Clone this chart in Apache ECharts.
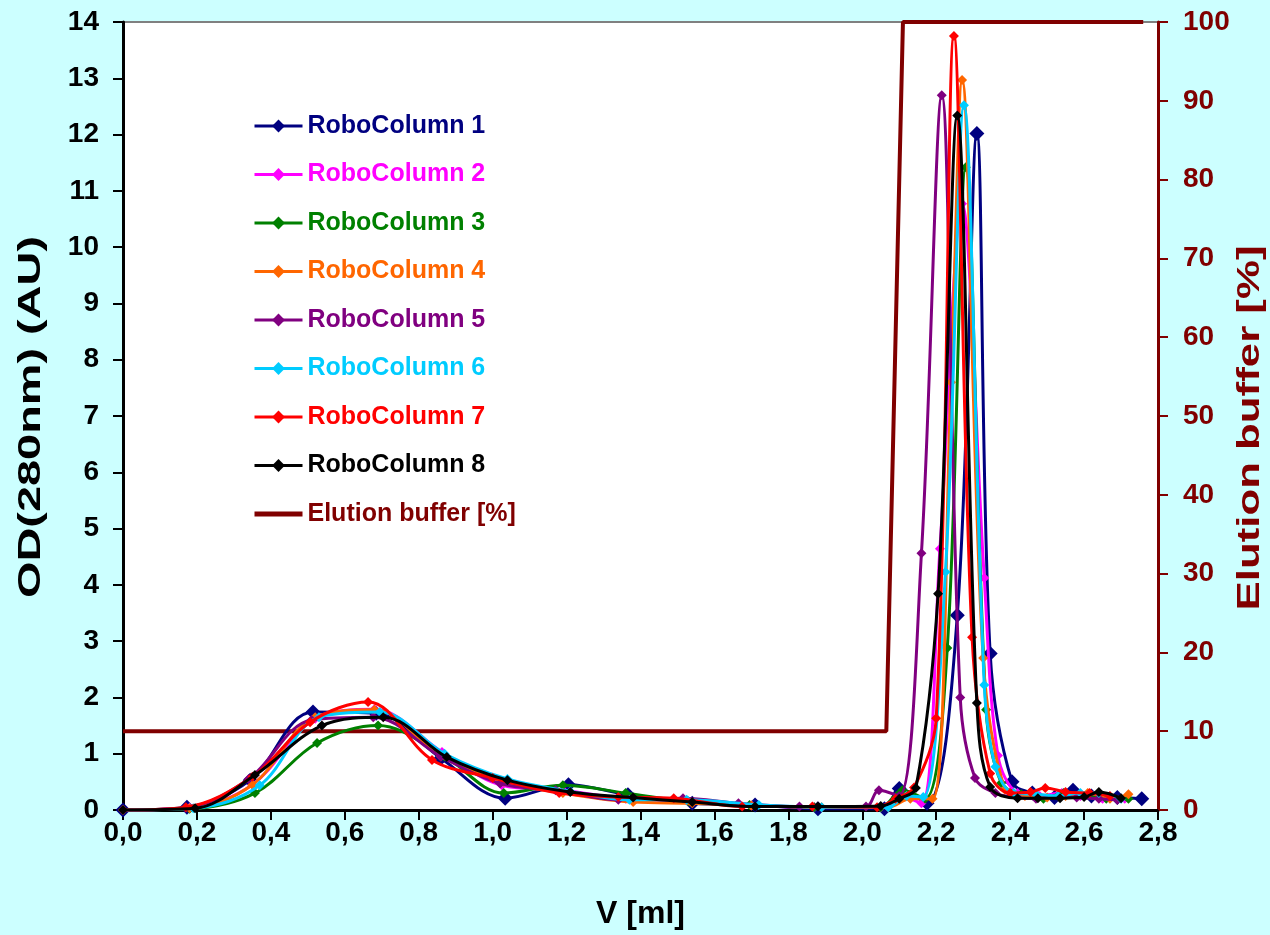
<!DOCTYPE html>
<html>
<head>
<meta charset="utf-8">
<script src="https://cdn.jsdelivr.net/npm/echarts@6/dist/echarts.min.js"></script>
<style>
  html, body { margin: 0; padding: 0; background: #ccffff; }
  #main { width: 1270px; height: 935px; }
</style>
</head>
<body>
<div id="main"></div>
<script>
// V [ml] and OD(280nm) for each RoboColumn
var v1 = [0, 0.173, 0.344, 0.514, 0.685, 0.86, 1.034, 1.205, 1.366, 1.54, 1.71, 1.88, 2.06, 2.10, 2.175, 2.257, 2.31, 2.346, 2.405, 2.46, 2.52, 2.57, 2.62, 2.69, 2.756]
var od1 = [0, 0.05, 0.53, 1.74, 1.72, 0.92, 0.21, 0.45, 0.27, 0.12, 0.09, 0.02, 0.02, 0.38, 0.12, 3.46, 12.02, 2.78, 0.5, 0.3, 0.22, 0.35, 0.25, 0.22, 0.2]

var v2 = [0, 0.18, 0.35, 0.52, 0.68, 0.863, 1.025, 1.19, 1.36, 1.53, 1.70, 1.87, 2.05, 2.10, 2.16, 2.21, 2.27, 2.33, 2.367, 2.42, 2.48, 2.54, 2.59, 2.65, 2.71]
var od2 = [0, 0.04, 0.45, 1.62, 1.79, 1.03, 0.44, 0.35, 0.2, 0.15, 0.08, 0.05, 0.05, 0.25, 0.12, 4.64, 10.77, 4.12, 0.97, 0.3, 0.25, 0.3, 0.25, 0.2, 0.2]

var v3 = [0, 0.18, 0.357, 0.525, 0.69, 0.87, 1.03, 1.19, 1.36, 1.53, 1.695, 1.87, 2.05, 2.108, 2.17, 2.23, 2.28, 2.335, 2.376, 2.43, 2.49, 2.545, 2.6, 2.66, 2.72]
var od3 = [0, 0.02, 0.3, 1.19, 1.5, 0.95, 0.3, 0.44, 0.3, 0.15, 0.09, 0.05, 0.05, 0.35, 0.2, 2.88, 11.42, 1.78, 0.48, 0.28, 0.2, 0.3, 0.25, 0.2, 0.2]

var v4 = [0, 0.18, 0.35, 0.52, 0.68, 0.86, 1.03, 1.19, 1.38, 1.54, 1.70, 1.89, 2.07, 2.13, 2.19, 2.24, 2.27, 2.327, 2.386, 2.44, 2.5, 2.55, 2.61, 2.67, 2.72]
var od4 = [0, 0.03, 0.45, 1.65, 1.78, 0.95, 0.5, 0.3, 0.14, 0.12, 0.08, 0.05, 0.05, 0.2, 0.2, 7.6, 12.97, 2.7, 0.36, 0.25, 0.22, 0.25, 0.3, 0.2, 0.28]

var v5 = [0, 0.17, 0.34, 0.51, 0.677, 0.86, 1.02, 1.17, 1.34, 1.515, 1.665, 1.83, 2.01, 2.045, 2.10, 2.16, 2.215, 2.265, 2.305, 2.36, 2.42, 2.47, 2.53, 2.58, 2.64, 2.69]
var od5 = [0, 0.04, 0.55, 1.6, 1.65, 0.95, 0.47, 0.35, 0.18, 0.21, 0.12, 0.06, 0.06, 0.35, 0.25, 4.56, 12.7, 2.0, 0.57, 0.3, 0.22, 0.2, 0.25, 0.22, 0.2, 0.18]

var v6 = [0, 0.19, 0.37, 0.53, 0.695, 0.87, 1.04, 1.21, 1.37, 1.525, 1.72, 1.89, 2.07, 2.12, 2.165, 2.225, 2.275, 2.33, 2.36, 2.41, 2.47, 2.53, 2.59, 2.64, 2.7]
var od6 = [0, 0.03, 0.44, 1.65, 1.74, 1.0, 0.55, 0.33, 0.18, 0.18, 0.09, 0.05, 0.05, 0.25, 0.23, 4.23, 12.52, 2.22, 0.77, 0.3, 0.28, 0.25, 0.3, 0.3, 0.2]

var v7 = [0, 0.17, 0.35, 0.506, 0.663, 0.836, 1.0, 1.18, 1.34, 1.49, 1.675, 1.865, 2.04, 2.09, 2.14, 2.2, 2.248, 2.297, 2.346, 2.40, 2.455, 2.495, 2.55, 2.615, 2.67]
var od7 = [0, 0.05, 0.59, 1.56, 1.92, 0.89, 0.57, 0.3, 0.23, 0.21, 0.06, 0.06, 0.05, 0.2, 0.4, 1.63, 13.75, 3.07, 0.65, 0.3, 0.32, 0.39, 0.32, 0.3, 0.25]

var v8 = [0, 0.195, 0.357, 0.538, 0.704, 0.876, 1.04, 1.21, 1.38, 1.54, 1.71, 1.88, 2.05, 2.10, 2.145, 2.205, 2.257, 2.31, 2.346, 2.42, 2.475, 2.535, 2.6, 2.64, 2.7]
var od8 = [0, 0.03, 0.62, 1.5, 1.65, 0.94, 0.53, 0.32, 0.22, 0.14, 0.06, 0.06, 0.07, 0.2, 0.39, 3.84, 12.34, 1.9, 0.41, 0.21, 0.21, 0.21, 0.23, 0.32, 0.21]

// elution buffer step [%]
var vBuffer = [0, 2.065, 2.11, 2.76]
var buffer = [10, 10, 100, 100]

var names = ['RoboColumn 1', 'RoboColumn 2', 'RoboColumn 3', 'RoboColumn 4',
  'RoboColumn 5', 'RoboColumn 6', 'RoboColumn 7', 'RoboColumn 8']
var colors = ['#000080', '#ff00ff', '#008000', '#ff6600', '#800080', '#00ccff', '#ff0000', '#000000']
var vs = [v1, v2, v3, v4, v5, v6, v7, v8]
var ods = [od1, od2, od3, od4, od5, od6, od7, od8]

var FONT = 'Liberation Sans'
var brown = '#800000'

function pairs(xs, ys) {
  return xs.map(function (x, i) { return [x, ys[i]] })
}

// the axis titles in the picture are stretched along the text
var ctx = document.createElement('canvas').getContext('2d')
ctx.font = 'bold 32px "' + FONT + '"'
function stretch(txt, len) {
  return len / ctx.measureText(txt).width
}

var series = names.map(function (n, k) {
  return {
    name: n,
    type: 'line',
    data: pairs(vs[k], ods[k]),
    smooth: 0.35,
    symbol: 'diamond',
    symbolSize: k === 0 ? 15 : 10,
    lineStyle: { color: colors[k], width: 3 },
    itemStyle: { color: colors[k] },
    z: 3 + k
  }
})

series.unshift({
  name: 'Elution buffer [%]',
  type: 'line',
  yAxisIndex: 1,
  data: pairs(vBuffer, buffer),
  symbol: 'none',
  lineStyle: { color: brown, width: 4 },
  itemStyle: { color: brown },
  z: 2
})

var legendData = names.map(function (n, k) {
  return { name: n, textStyle: { color: colors[k] } }
})
legendData.push({
  name: 'Elution buffer [%]',
  textStyle: { color: brown },
  itemStyle: { color: 'rgba(0,0,0,0)', borderWidth: 0 },
  lineStyle: { width: 5 }
})

var leftTitle = 'OD(280nm) (AU)'
var rightTitle = 'Elution buffer [%]'

var myChart = echarts.init(document.getElementById('main'))
myChart.setOption({
  backgroundColor: '#ccffff',
  animation: false,
  textStyle: { fontFamily: FONT },
  grid: {
    left: 123, right: 112, top: 22, bottom: 125,
    outerBoundsMode: 'none',
    show: true,
    backgroundColor: '#ffffff',
    borderColor: '#808080',
    borderWidth: 2
  },
  legend: {
    orient: 'vertical',
    left: 252,
    top: 111,
    padding: 0,
    itemWidth: 48,
    itemHeight: 16,
    itemGap: 18.5,
    data: legendData,
    lineStyle: { width: 3 },
    textStyle: { fontFamily: FONT, fontWeight: 'bold', fontSize: 25, lineHeight: 30 }
  },
  graphic: [
    {
      type: 'text',
      x: 31, y: 417,
      rotation: Math.PI / 2,
      scaleX: stretch(leftTitle, 362),
      style: {
        text: leftTitle, fill: '#000',
        font: 'bold 32px "' + FONT + '"',
        align: 'center', verticalAlign: 'middle'
      }
    },
    {
      type: 'text',
      x: 1250, y: 428,
      rotation: Math.PI / 2,
      scaleX: stretch(rightTitle, 365),
      style: {
        text: rightTitle, fill: brown,
        font: 'bold 32px "' + FONT + '"',
        align: 'center', verticalAlign: 'middle'
      }
    }
  ],
  xAxis: {
    type: 'value',
    min: 0,
    max: 2.8,
    interval: 0.2,
    name: 'V [ml]',
    nameLocation: 'middle',
    nameGap: 88,
    nameTextStyle: { color: '#000', fontWeight: 'bold', fontSize: 32, fontFamily: FONT },
    splitLine: { show: false },
    axisLine: { onZero: false, lineStyle: { color: '#000', width: 3 } },
    axisTick: { inside: false, length: 10, lineStyle: { color: '#000', width: 2 } },
    axisLabel: {
      color: '#000', fontWeight: 'bold', fontSize: 28, margin: 9, fontFamily: FONT,
      formatter: function (v) { return v.toFixed(1).replace('.', ',') }
    }
  },
  yAxis: [
    {
      type: 'value',
      min: 0,
      max: 14,
      interval: 1,
      splitLine: { show: false },
      axisLine: { show: true, lineStyle: { color: '#000', width: 3 } },
      axisTick: { show: true, length: 10, lineStyle: { color: '#000', width: 2 } },
      axisLabel: { color: '#000', fontWeight: 'bold', fontSize: 28, margin: 24, fontFamily: FONT }
    },
    {
      type: 'value',
      position: 'right',
      min: 0,
      max: 100,
      interval: 10,
      splitLine: { show: false },
      axisLine: { show: true, lineStyle: { color: brown, width: 3 } },
      axisTick: { show: true, length: 10, lineStyle: { color: brown, width: 2 } },
      axisLabel: { color: brown, fontWeight: 'bold', fontSize: 28, margin: 25, fontFamily: FONT }
    }
  ],
  series: series
})
</script>
</body>
</html>
